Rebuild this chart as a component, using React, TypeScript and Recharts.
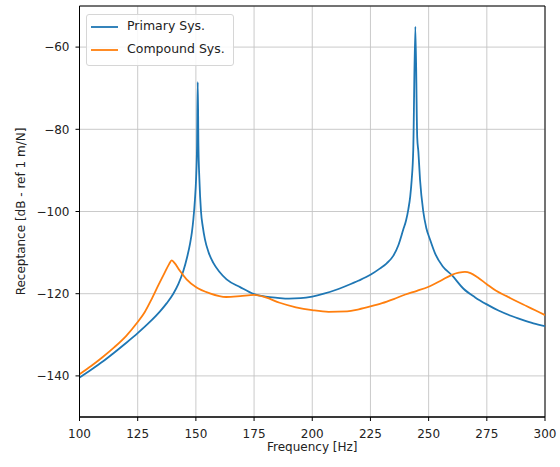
import React from "react";
import {
  LineChart,
  Line,
  XAxis,
  YAxis,
  CartesianGrid,
  Legend,
  ReferenceArea,
} from "recharts";

// Frequencies [Hz] and receptance values [dB] for the primary system
const primaryFreq = [
  100, 105, 110, 115, 120, 125, 130, 134.6, 137.5, 140.3, 142.5, 144.6, 146.2,
  147.5, 148.3, 148.9, 149.6, 150.1, 150.5, 150.8, 151.1, 151.5, 152.2, 153.0,
  153.9, 155.5, 157.5, 160, 163.2, 169, 175, 180, 185, 190, 195, 200, 205, 210,
  215, 220, 225, 229, 232, 234.8, 237, 239.1, 240.3, 241.3, 242.1, 242.7,
  243.4, 244.3, 245.1, 245.6, 246.3, 247.7, 249, 250.6, 253, 256, 260, 265,
  270, 275, 280, 285, 290, 295, 300,
];
const primaryDb = [
  -140.4, -138.5, -136.5, -134.3, -132.0, -129.6, -127.0, -124.3, -122.3,
  -120.0, -117.6, -114.5, -111.2, -107.8, -105.0, -102.0, -97.1, -92.0, -84.0,
  -68.5, -84.0, -92.0, -100.0, -103.8, -106.8, -110.0, -112.5, -114.6, -116.5,
  -118.4, -120.1, -120.7, -121.0, -121.2, -121.1, -120.7, -120.0, -119.1,
  -118.0, -116.8, -115.4, -113.9, -112.6, -110.8, -108.2, -104.4, -102.2,
  -99.4, -96.3, -92.5, -84.9, -55.0, -82.0, -85.5, -92.2, -100.0, -104.0,
  -106.8, -110.5, -113.3, -115.5, -118.8, -120.9, -122.6, -124.1, -125.3,
  -126.3, -127.2, -127.9,
];

// Frequencies [Hz] and receptance values [dB] for the compound system
const compoundFreq = [
  100, 105, 110, 115, 120, 125, 128, 131, 134, 136.5, 138.5, 139.6, 140.8,
  143.2, 146, 150.3, 156, 163, 169, 175, 180, 186, 193, 200, 207, 215, 220,
  225, 230, 235, 240, 245, 250, 255, 260, 263, 265.6, 268, 271, 275, 279,
  283.5, 288, 292, 296, 300,
];
const compoundDb = [
  -139.6, -137.6, -135.4, -133.0, -130.3, -126.9, -124.5, -121.3, -117.8,
  -115.0, -112.8, -111.9, -112.5, -114.5, -116.5, -118.5, -119.9, -120.8,
  -120.6, -120.3, -120.9, -122.2, -123.3, -124.0, -124.4, -124.3, -123.8,
  -123.1, -122.3, -121.3, -120.2, -119.3, -118.3, -116.9, -115.4, -114.9,
  -114.7, -115.0, -116.0, -117.7, -119.3, -120.6, -121.9, -123.0, -124.1,
  -125.2,
];

const xTicks = [100, 125, 150, 175, 200, 225, 250, 275, 300];
const yTicks = [-140, -120, -100, -80, -60];

const seriesNames = ["Primary Sys.", "Compound Sys."];
const seriesColors = ["#1f77b4", "#ff7f0e"];

const primaryData = primaryFreq.map((f, i) => ({ f, v: primaryDb[i] }));
const compoundData = compoundFreq.map((f, i) => ({ f, v: compoundDb[i] }));

const FONT = "'DejaVu Sans', Verdana, sans-serif";
const TEXT = "#222";

const fmt = (v: number) => String(v).replace("-", "\u2212");

const renderLegend = () => (
  <div
    style={{
      position: "relative",
      width: 148,
      height: 52,
      boxSizing: "border-box",
      border: "1px solid #d6d6d6",
      borderRadius: 3,
      background: "rgba(255,255,255,0.85)",
      fontFamily: FONT,
      fontSize: 12.5,
      color: TEXT,
    }}
  >
    {seriesNames.map((name, i) => (
      <div key={name}>
        <svg
          width={28}
          height={4}
          style={{ position: "absolute", left: 4, top: 10 + i * 23 }}
        >
          <line x1={0} y1={2} x2={27} y2={2} stroke={seriesColors[i]} strokeWidth={1.8} />
        </svg>
        <span
          style={{
            position: "absolute",
            left: 40,
            top: 3 + i * 23,
            whiteSpace: "nowrap",
            lineHeight: "16px",
          }}
        >
          {name}
        </span>
      </div>
    ))}
  </div>
);

export default function App() {
  return (
    <div style={{ position: "absolute", left: 0, top: 0, width: 560, height: 467, background: "#fff" }}>
      <LineChart
        width={560}
        height={467}
        margin={{ top: 6, right: 15, bottom: 0, left: 0 }}
      >
        <CartesianGrid stroke="#c4c4c4" strokeWidth={0.9} />
        <XAxis
          type="number"
          dataKey="f"
          domain={[100, 300]}
          ticks={xTicks}
          allowDataOverflow
          height={50}
          tickSize={4}
          tickMargin={8}
          stroke="#000"
          tick={{ fill: TEXT, fontSize: 12, fontFamily: FONT }}
          label={{
            value: "Frequency [Hz]",
            position: "insideBottom",
            offset: 16,
            style: { fill: TEXT, fontSize: 12, fontFamily: FONT },
          }}
        />
        <YAxis
          type="number"
          domain={[-150, -50]}
          ticks={yTicks}
          allowDataOverflow
          width={79.5}
          tickSize={4}
          tickMargin={6}
          stroke="#000"
          tickFormatter={fmt}
          tick={{ fill: TEXT, fontSize: 12, fontFamily: FONT }}
          label={{
            value: "Receptance [dB - ref 1 m/N]",
            angle: -90,
            position: "insideLeft",
            offset: 21,
            style: { textAnchor: "middle", fill: TEXT, fontSize: 12, fontFamily: FONT },
          }}
        />
        <ReferenceArea
          x1={100}
          x2={300}
          y1={-150}
          y2={-50}
          fill="none"
          stroke="#000"
          strokeWidth={1}
          ifOverflow="visible"
        />
        <Line
          data={primaryData}
          dataKey="v"
          name={seriesNames[0]}
          type="monotone"
          stroke={seriesColors[0]}
          strokeWidth={1.8}
          dot={false}
          isAnimationActive={false}
        />
        <Line
          data={compoundData}
          dataKey="v"
          name={seriesNames[1]}
          type="monotone"
          stroke={seriesColors[1]}
          strokeWidth={1.8}
          dot={false}
          isAnimationActive={false}
        />
        <Legend
          layout="vertical"
          align="center"
          verticalAlign="middle"
          content={renderLegend}
          wrapperStyle={{ left: 86, top: 14, width: 148, height: 52 }}
        />
      </LineChart>
    </div>
  );
}
